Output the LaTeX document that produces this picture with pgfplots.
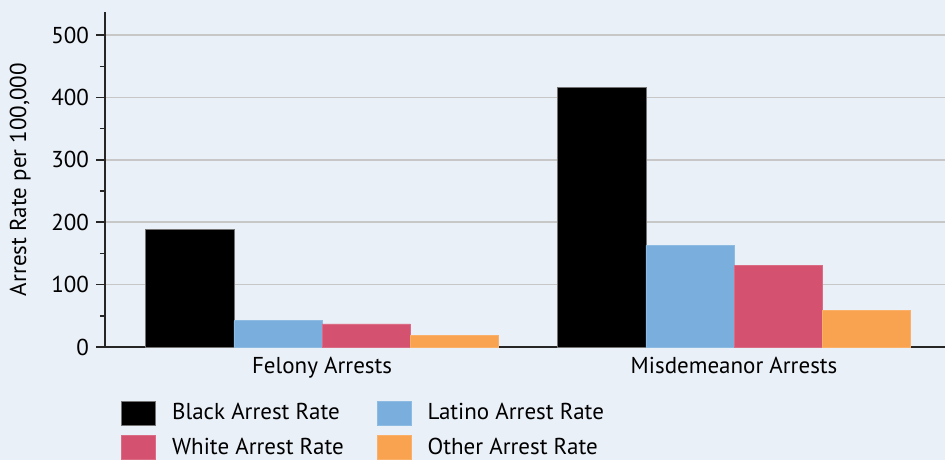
\documentclass[border=0pt]{standalone}
\usepackage{pgfplots}
\pgfplotsset{compat=1.18}
\usepackage{fontspec}
\setmainfont{PT Sans}
\definecolor{bg}{HTML}{EAF0F8}
\definecolor{clatino}{HTML}{7AAFDD}
\definecolor{cwhite}{HTML}{D45270}
\definecolor{cother}{HTML}{F9A24F}
\pgfplotsset{myleg/.style={legend image code/.code={\fill[##1] (0bp,-6bp) rectangle (17bp,6bp); \path (23bp,0bp);}}}
\begin{document}
\begin{tikzpicture}[font=\fontsize{11.5bp}{13.5bp}\selectfont]
\path[use as bounding box, fill=bg] (-52.5bp,-56.5bp) rectangle (420bp,173.5bp);
\clip (-52.5bp,-56.5bp) rectangle (420bp,173.5bp);
\begin{axis}[
  at={(0,0)}, anchor=south west,
  scale only axis, width=420bp, height=167.5bp,
  ymin=0, ymax=537, xmin=-0.527, xmax=1.512,
  axis x line*=bottom, axis y line*=left,
  axis line style={line width=0.75bp, color=black!85},
  ymajorgrids, grid style={line width=0.75bp, color=black!22},
  ytick={0,100,...,500}, minor ytick={50,150,...,450},
  tick align=outside, major tick length=4.5bp, minor tick length=2.5bp,
  ytick style={line width=0.75bp, color=black!85},
  xtick={0,1}, xticklabels={Felony Arrests, Misdemeanor Arrests},
  xtick style={draw=none},
  xticklabel style={yshift=3bp},
  /pgf/number format/assume math mode=true,
  ticklabel style={font=\fontsize{11.5bp}{13.5bp}\selectfont},
  ylabel={Arrest Rate per 100,000},
  ylabel style={at={(axis description cs:-0.101,0.5)}, anchor=center, rotate=0},
  legend columns=2,
  legend cell align=left,
  legend style={at={(axis description cs:0,0)}, anchor=north west,
    xshift=8bp, yshift=-26bp, draw=none, fill=none, inner sep=0pt,
    row sep=3.7bp,
    /tikz/every even column/.append style={column sep=14.5bp},
    font=\fontsize{11.5bp}{13.5bp}\selectfont},
]
\addplot[ybar, bar width=0.214, bar shift=-0.321, fill=black, draw=black!55, line width=0.4bp, myleg]
  coordinates {(0,189) (1,416)};
\addlegendentry{Black Arrest Rate}
\addplot[ybar, bar width=0.214, bar shift=-0.107, fill=clatino, draw=clatino!85!white, line width=0.4bp, myleg]
  coordinates {(0,42) (1,163)};
\addlegendentry{Latino Arrest Rate}
\addplot[ybar, bar width=0.214, bar shift=0.107, fill=cwhite, draw=cwhite!85!white, line width=0.4bp, myleg]
  coordinates {(0,37) (1,131)};
\addlegendentry{White Arrest Rate}
\addplot[ybar, bar width=0.214, bar shift=0.321, fill=cother, draw=cother!85!white, line width=0.4bp, myleg]
  coordinates {(0,19) (1,58)};
\addlegendentry{Other Arrest Rate}
\end{axis}
\end{tikzpicture}
\end{document}
